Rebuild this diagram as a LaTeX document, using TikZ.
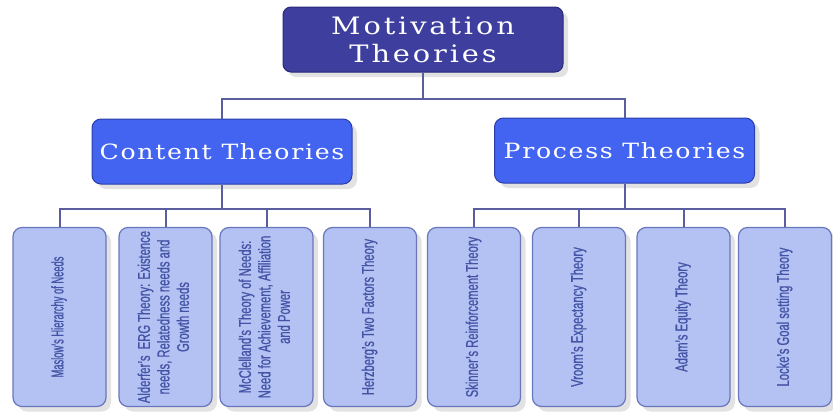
\documentclass[tikz,border=0pt]{standalone}
\usepackage{fontspec}
\usetikzlibrary{shadows}
\newfontfamily\titlefont[FakeStretch=1.2,LetterSpace=12]{DejaVu Serif}
\newfontfamily\headfont[FakeStretch=1.2,LetterSpace=8]{DejaVu Serif}
\newfontfamily\leaffont[FakeStretch=0.66,FakeBold=0.8]{Liberation Sans}
\newfontfamily\leafnarrow[FakeStretch=0.55,FakeBold=0.8]{Liberation Sans}
\definecolor{navy}{HTML}{3E3E9E}
\definecolor{navyb}{HTML}{29297A}
\definecolor{midblue}{HTML}{4264F0}
\definecolor{midblueb}{HTML}{2B3DA8}
\definecolor{leaffill}{HTML}{B3C2F2}
\definecolor{leafb}{HTML}{6A76BC}
\definecolor{leaftext}{HTML}{4453A6}
\definecolor{conncol}{HTML}{5B5E9E}
\tikzset{
  boxshadow/.style={drop shadow={shadow xshift=5pt,shadow yshift=-5pt,fill=black!25,opacity=0.45}},
  topbox/.style={draw=navyb,line width=1pt,fill=navy,rounded corners=8pt,minimum width=280pt,minimum height=65pt,text=white,align=center,font=\titlefont\fontsize{24}{28}\selectfont,inner sep=0pt,boxshadow},
  midbox/.style={draw=midblueb,line width=1pt,fill=midblue,rounded corners=9pt,minimum width=260pt,minimum height=65pt,text=white,align=center,font=\headfont\fontsize{21}{25}\selectfont,inner sep=0pt,boxshadow},
  leafbox/.style={draw=leafb,line width=1.2pt,fill=leaffill,rounded corners=9pt,minimum width=93pt,minimum height=179pt,text=leaftext,inner sep=0pt,boxshadow,font=\leaffont\fontsize{17}{19.5}\selectfont},
  conn/.style={draw=conncol,line width=2pt}
}
\newcommand{\leaftxt}[1]{\rotatebox{90}{\begin{tabular}{@{}c@{}}#1\end{tabular}}}
\begin{document}
\begin{tikzpicture}[x=1pt,y=-1pt]
\useasboundingbox (0,0) rectangle (833,413);
\coordinate (bus1) at (423,99);
\coordinate (bus2) at (0,209);
\node[topbox] (top) at (423,39.5) {\raisebox{-3pt}{Motivation}\\\raisebox{-3pt}{Theories}};
\node[midbox] (content) at (222,151.5) {Content Theories};
\node[midbox] (process) at (624.5,150.5) {Process Theories};
\node[leafbox] (l1) at (59.5,317) {\leafnarrow\fontsize{17}{19.5}\selectfont\leaftxt{Maslow’s Hierarchy of Needs}};
\node[leafbox] (l2) at (165.5,317) {\leaftxt{Alderfer’s\ \ ERG Theory: Existence\\needs, Relatedness needs and\\Growth needs}};
\node[leafbox] (l3) at (266.5,317) {\leaftxt{McClelland’s Theory of Needs:\\Need for Achievement, Affiliation\\and Power}};
\node[leafbox] (l4) at (370,317) {\leaftxt{Herzberg’s Two Factors Theory}};
\node[leafbox] (l5) at (474,317) {\leaftxt{Skinner’s Reinforcement Theory}};
\node[leafbox] (l6) at (579,317) {\leaftxt{Vroom’s Expectancy Theory}};
\node[leafbox] (l7) at (683.5,317) {\leaftxt{Adam’s Equity Theory}};
\node[leafbox] (l8) at (785,317) {\leaftxt{Locke’s Goal setting Theory}};
\draw[conn] (top.south) -- (bus1);
\draw[conn] (content.north) -- (content.north |- bus1) -- (process.north |- bus1) -- (process.north);
\draw[conn] (content.south) -- (content.south |- bus2);
\draw[conn] (process.south) -- (process.south |- bus2);
\draw[conn] (l1.north) -- (l1.north |- bus2) -- (l4.north |- bus2) -- (l4.north);
\draw[conn] (l2.north) -- (l2.north |- bus2);
\draw[conn] (l3.north) -- (l3.north |- bus2);
\draw[conn] (l5.north) -- (l5.north |- bus2) -- (l8.north |- bus2) -- (l8.north);
\draw[conn] (l6.north) -- (l6.north |- bus2);
\draw[conn] (l7.north) -- (l7.north |- bus2);
\end{tikzpicture}
\end{document}
